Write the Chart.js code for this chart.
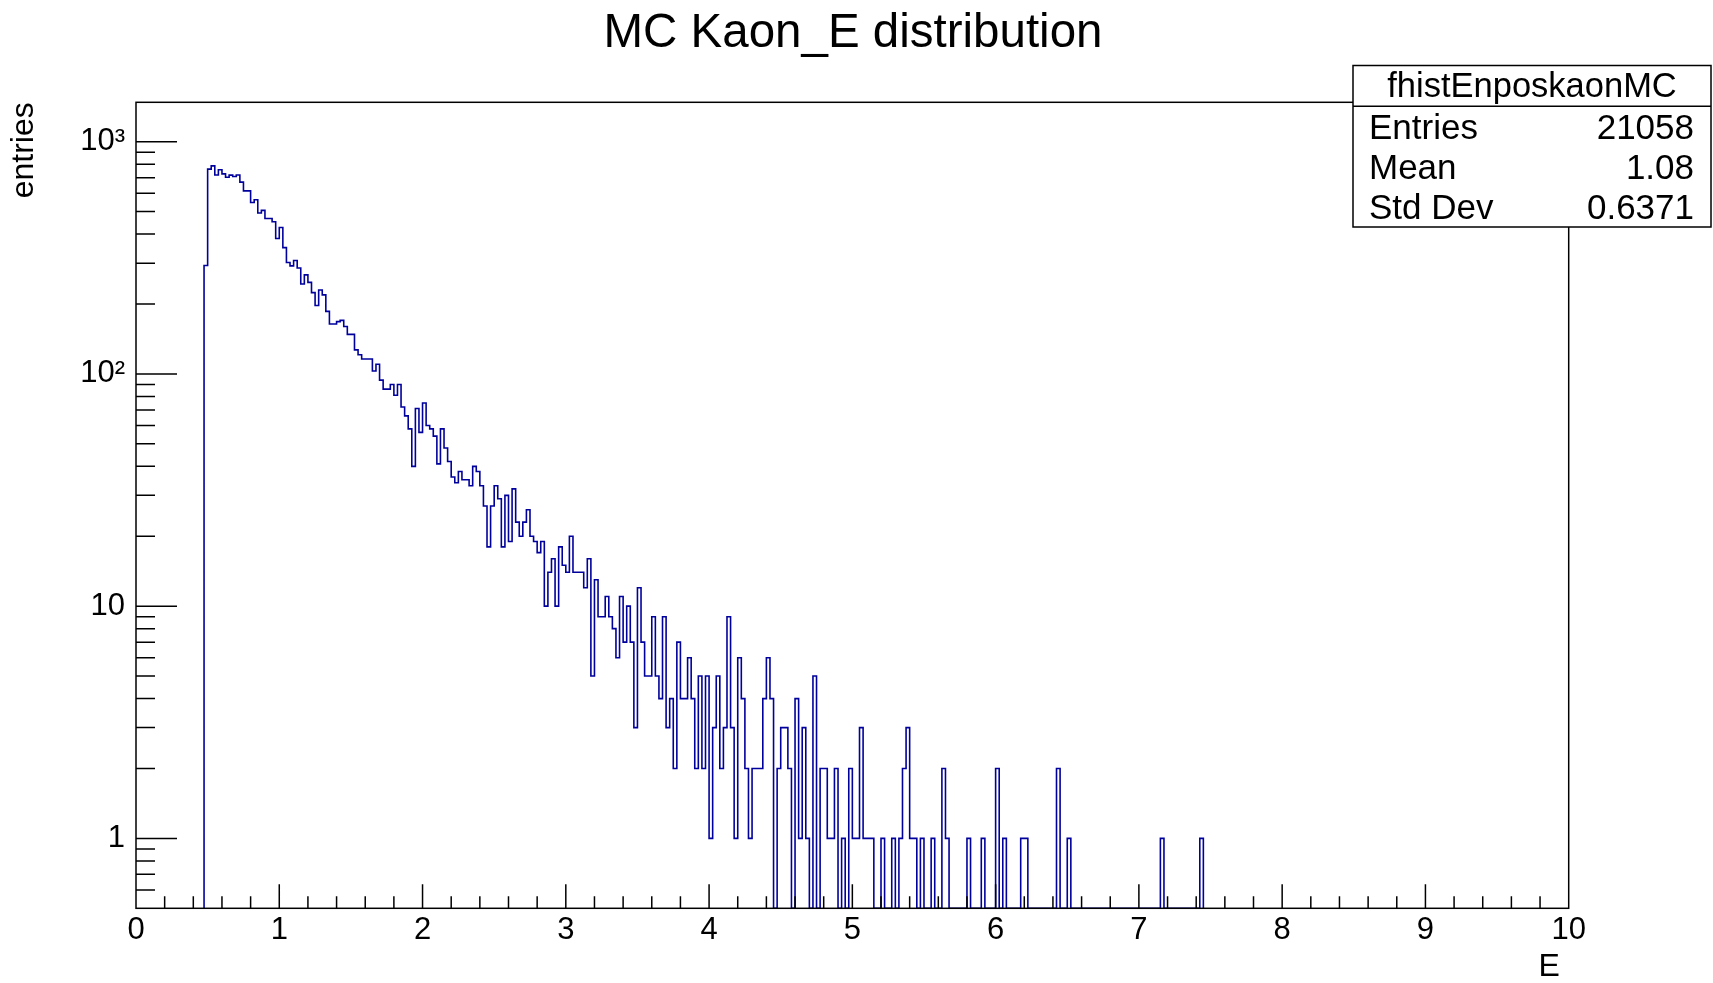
<!DOCTYPE html>
<html>
<head>
<meta charset="utf-8">
<title>MC Kaon_E distribution</title>
<script src="https://cdn.jsdelivr.net/npm/chart.js@4.4.1/dist/chart.umd.min.js"></script>
<style>
  html, body { margin: 0; padding: 0; background: #fff; }
  canvas { display: block; }
</style>
</head>
<body>
<canvas id="histChart" width="1713" height="983"></canvas>
<script>
// TH1 with 400 bins on 0..10, only the filled range is listed
const binWidth = 0.025;
const firstEdge = 0.475;   // low edge of the first filled bin
const counts = [
  293, 762, 787, 719, 757, 727, 703, 718, 708, 719,
  670, 614, 614, 547, 562, 493, 506, 467, 467, 452,
  383, 427, 350, 302, 292, 308, 286, 244, 267, 248,
  224, 197, 230, 219, 186, 164, 164, 168, 170, 160,
  148, 148, 127, 121, 116, 116, 116, 103, 110, 94,
  86, 86, 90, 81, 90, 72, 66, 58, 40, 71,
  56, 75, 60, 58, 54, 41, 58, 48, 42, 36,
  34, 38, 35, 35, 33, 40, 38, 33, 27, 18,
  27, 33, 29, 18, 30, 19, 32, 23, 20, 23,
  26, 20, 19, 17, 19, 10, 14, 16, 10, 18,
  15, 14, 20, 14, 14, 14, 12, 16, 5, 13,
  9, 9, 11, 9, 8, 6, 11, 7, 10, 7,
  3, 12, 7, 5, 5, 9, 5, 4, 9, 3,
  4, 2, 7, 4, 4, 6, 4, 2, 5, 2,
  5, 1, 3, 5, 2, 3, 9, 3, 1, 6,
  4, 2, 1, 2, 2, 2, 4, 6, 4, 0,
  2, 3, 3, 2, 0, 4, 1, 3, 1, 0,
  5, 0, 2, 2, 1, 1, 2, 0, 1, 0,
  2, 1, 1, 3, 1, 1, 1, 0, 0, 1,
  0, 0, 1, 0, 1, 2, 3, 1, 1, 0,
  1, 0, 0, 1, 0, 0, 2, 1, 0, 0,
  0, 0, 0, 1, 0, 0, 0, 1, 0, 0,
  0, 2, 0, 1, 0, 0, 0, 0, 1, 1,
  0, 0, 0, 0, 0, 0, 0, 0, 2, 0,
  0, 1, 0, 0, 0, 0, 0, 0, 0, 0,
  0, 0, 0, 0, 0, 0, 0, 0, 0, 0,
  0, 0, 0, 0, 0, 0, 0, 1, 0, 0,
  0, 0, 0, 0, 0, 0, 0, 0, 1
];

const statsTitle = 'fhistEnposkaonMC';
const statsNames = ['Entries', 'Mean', 'Std Dev'];
const statsValues = ['21058', '1.08', '0.6371'];

const yMin = 0.5;
const yMax = 1478;
const yMajorTicks = [1, 10, 100, 1000];
const yMajorLabels = ['1', '10', '10\u00b2', '10\u00b3'];
const yMinorTicks = [0.6, 0.7, 0.8, 0.9,
  2, 3, 4, 5, 6, 7, 8, 9,
  20, 30, 40, 50, 60, 70, 80, 90,
  200, 300, 400, 500, 600, 700, 800, 900];
const xMinorStep = 0.2;

const FONT = '"Liberation Sans", Arial, Helvetica, sans-serif';
Chart.defaults.font.family = FONT;
Chart.defaults.color = '#000';

// step outline, empty bins drop to the axis floor like ROOT does on log y
const points = [{ x: firstEdge, y: yMin }];
counts.forEach((c, i) => {
  points.push({ x: firstEdge + i * binWidth, y: c > 0 ? c : yMin });
});
points.push({ x: firstEdge + counts.length * binWidth, y: yMin });

// inner tick marks, frame and stats box
const rootStyle = {
  id: 'rootStyle',
  afterDatasetsDraw(chart) {
    const { ctx, chartArea: a, scales } = chart;
    const xs = scales.x, ys = scales.y;
    ctx.save();
    ctx.strokeStyle = '#000';
    ctx.lineWidth = 1.5;
    ctx.beginPath();
    const nx = Math.round(10 / xMinorStep);
    for (let i = 1; i < nx; i++) {
      const px = xs.getPixelForValue(i * xMinorStep);
      const len = i % 5 === 0 ? 24 : 12;
      ctx.moveTo(px, a.bottom);
      ctx.lineTo(px, a.bottom - len);
    }
    yMajorTicks.forEach(v => {
      const py = ys.getPixelForValue(v);
      ctx.moveTo(a.left, py);
      ctx.lineTo(a.left + 41, py);
    });
    yMinorTicks.forEach(v => {
      const py = ys.getPixelForValue(v);
      ctx.moveTo(a.left, py);
      ctx.lineTo(a.left + 19, py);
    });
    ctx.stroke();
    ctx.strokeRect(a.left, a.top, a.right - a.left, a.bottom - a.top);
    ctx.restore();
  },
  afterDraw(chart) {
    const ctx = chart.ctx;
    const bx = 1353, by = 65.5, bw = 358, bh = 161.5, headH = 40.7;
    ctx.save();
    ctx.fillStyle = '#fff';
    ctx.fillRect(bx, by, bw, bh);
    ctx.strokeStyle = '#000';
    ctx.lineWidth = 1.5;
    ctx.strokeRect(bx, by, bw, bh);
    ctx.beginPath();
    ctx.moveTo(bx, by + headH);
    ctx.lineTo(bx + bw, by + headH);
    ctx.stroke();

    ctx.fillStyle = '#000';
    ctx.font = '34.5px ' + FONT;
    ctx.textBaseline = 'middle';
    ctx.textAlign = 'center';
    ctx.fillText(statsTitle, 1532, 87.5);

    ctx.font = '35px ' + FONT;
    const rowY = [129.5, 169.5, 209.5];
    statsNames.forEach((name, i) => {
      ctx.textAlign = 'left';
      ctx.fillText(name, 1369, rowY[i]);
      ctx.textAlign = 'right';
      ctx.fillText(statsValues[i], 1694, rowY[i]);
    });
    ctx.restore();
  }
};

new Chart(document.getElementById('histChart'), {
  type: 'line',
  data: {
    datasets: [{
      label: statsTitle,
      data: points,
      stepped: 'before',
      borderColor: '#00009c',
      borderWidth: 1.6,
      borderJoinStyle: 'miter',
      pointRadius: 0,
      fill: false
    }]
  },
  options: {
    responsive: false,
    animation: false,
    layout: { padding: { left: 0, right: 7, top: 0, bottom: 0 } },
    plugins: {
      legend: { display: false },
      tooltip: { enabled: false },
      title: {
        display: true,
        text: 'MC Kaon_E distribution',
        color: '#000',
        font: { size: 47.5, weight: 'normal', lineHeight: 1.2 },
        padding: { top: 5.6, bottom: 39.7 }
      }
    },
    scales: {
      x: {
        type: 'linear',
        min: 0,
        max: 10,
        grid: { display: false, drawTicks: false },
        border: { display: false },
        ticks: { stepSize: 1, padding: 4, font: { size: 31 }, maxRotation: 0, autoSkip: false },
        title: {
          // trailing space pulls the label in from the axis end, as ROOT places it
          display: true, text: 'E ', align: 'end',
          font: { size: 32, lineHeight: 1 },
          padding: { top: 0, bottom: 0 }
        },
        afterFit: s => { s.height = 74.7; }
      },
      y: {
        type: 'logarithmic',
        min: yMin,
        max: yMax,
        grid: { display: false, drawTicks: false },
        border: { display: false },
        afterBuildTicks: s => {
          s.ticks = yMajorTicks.concat(yMinorTicks).sort((p, q) => p - q).map(v => ({ value: v }));
        },
        ticks: {
          autoSkip: false,
          padding: 11,
          font: { size: 31 },
          callback: v => {
            const k = yMajorTicks.indexOf(v);
            return k >= 0 ? yMajorLabels[k] : '';
          }
        },
        title: {
          display: true, text: 'entries', align: 'end',
          font: { size: 32, lineHeight: 1.2 },
          padding: { top: 5, bottom: 0 }
        },
        afterFit: s => { s.width = 136; }
      },
      yRight: {
        type: 'linear',
        position: 'right',
        display: true,
        grid: { display: false, drawTicks: false },
        border: { display: false },
        ticks: { display: false },
        afterFit: s => { s.width = 137.3; }
      }
    }
  },
  plugins: [rootStyle]
});
</script>
</body>
</html>
